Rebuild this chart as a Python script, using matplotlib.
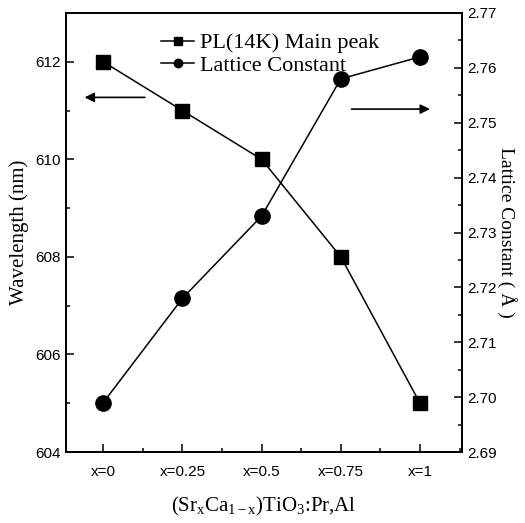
import matplotlib
matplotlib.use("Agg")
import matplotlib.pyplot as plt
from matplotlib import font_manager
from matplotlib.ticker import MultipleLocator, FormatStrFormatter

# data
categories = ["x=0", "x=0.25", "x=0.5", "x=0.75", "x=1"]
pl_peak = [612.0, 611.0, 610.0, 608.0, 605.0]          # nm
lattice = [2.699, 2.718, 2.733, 2.758, 2.762]           # Angstrom

names = {f.name for f in font_manager.fontManager.ttflist}
narrow = "Liberation Sans Narrow" if "Liberation Sans Narrow" in names else "Liberation Sans"
serif = "Liberation Serif"

plt.rcParams["mathtext.fontset"] = "custom"
plt.rcParams["mathtext.rm"] = serif
plt.rcParams["mathtext.it"] = serif

fig = plt.figure(figsize=(5.25, 5.23), dpi=100)
ax = fig.add_axes([66 / 525, 1 - 452 / 523, (462 - 66) / 525, (452 - 13) / 523])
ax2 = ax.twinx()

xs = list(range(len(categories)))
l1, = ax.plot(xs, pl_peak, color="black", lw=1.1, marker="s", ms=10,
              label="PL(14K) Main peak")
l2, = ax2.plot(xs, lattice, color="black", lw=1.1, marker="o", ms=11,
               label="Lattice Constant")

ax.set_xlim(-0.47, 4.53)
ax.set_ylim(604, 613)
ax2.set_ylim(2.69, 2.77)

ax.set_xticks(xs)
ax.set_xticklabels(categories)
ax.xaxis.set_minor_locator(MultipleLocator(0.5))
ax.yaxis.set_major_locator(MultipleLocator(2))
ax.yaxis.set_minor_locator(MultipleLocator(1))
ax2.yaxis.set_major_locator(MultipleLocator(0.01))
ax2.yaxis.set_minor_locator(MultipleLocator(0.005))
ax2.yaxis.set_major_formatter(FormatStrFormatter("%.2f"))

for a in (ax, ax2):
    a.tick_params(which="both", direction="in", width=1.1, labelsize=11, pad=4)
    a.tick_params(which="major", length=6)
    a.tick_params(which="minor", length=3)
    for sp in a.spines.values():
        sp.set_linewidth(1.3)
    for lab in a.get_xticklabels() + a.get_yticklabels():
        lab.set_fontfamily(narrow)
ax.tick_params(axis="x", pad=9)

ax.set_ylabel("Wavelength (nm)", family=serif, fontsize=15, labelpad=4)
ax2.set_ylabel("Lattice Constant ( Å )", family=serif, fontsize=14,
               rotation=-90, labelpad=14)
ax.set_xlabel(r"(Sr$_\mathrm{x}$Ca$_\mathrm{1-x}$)TiO$_3$:Pr,Al",
              family=serif, fontsize=15, labelpad=12)

# direction arrows
ax.annotate("", xy=(-0.27, 611.27), xytext=(0.56, 611.27),
            arrowprops=dict(arrowstyle="-|>", color="black", lw=1.2,
                            mutation_scale=14))
ax.annotate("", xy=(4.16, 611.03), xytext=(3.1, 611.03),
            arrowprops=dict(arrowstyle="-|>", color="black", lw=1.2,
                            mutation_scale=14))

leg = ax2.legend(handles=[l1, l2], loc="upper left",
                 bbox_to_anchor=(0.24, 0.955), frameon=False,
                 prop={"family": serif, "size": 16}, markerscale=0.55,
                 handlelength=1.5, handletextpad=0.25, borderpad=0,
                 borderaxespad=0, labelspacing=0.1)

fig.savefig("out.png", dpi=100)
